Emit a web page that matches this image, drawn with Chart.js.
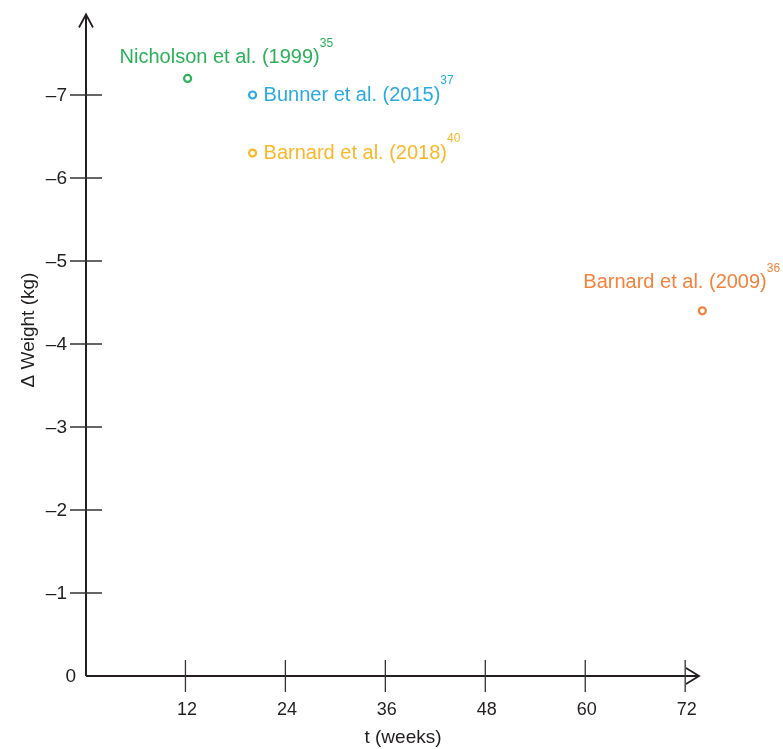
<!DOCTYPE html>
<html>
<head>
<meta charset="utf-8">
<script src="https://cdn.jsdelivr.net/npm/chart.js@4/dist/chart.umd.min.js"></script>
<style>
  html, body { margin: 0; padding: 0; background: #fff; }
  #wrap { width: 783px; height: 749px; }
</style>
</head>
<body>
<div id="wrap"><canvas id="myChart" width="783" height="749"></canvas></div>
<script>
// study data: weeks of follow-up and weight change (kg)
var studies = ['Nicholson et al. (1999)', 'Bunner et al. (2015)', 'Barnard et al. (2018)', 'Barnard et al. (2009)'];
var refs = ['35', '37', '40', '36'];
var weeks = [12.2, 20, 20, 74];
var weightChange = [-7.2, -7.0, -6.3, -4.4];
var xTicks = [12, 24, 36, 48, 60, 72];
var yTicks = [0, -1, -2, -3, -4, -5, -6, -7];

var colors = ['rgb(44,177,90)', 'rgb(41,171,226)', 'rgb(251,183,40)', 'rgb(243,130,60)'];
// label placement relative to each point (px)
var labelOffsets = [[-68, -21], [11, 0], [11, 0], [-119, -28]];

var ink = '#231f20';
var font = '"Liberation Sans", Arial, sans-serif';

var axesPlugin = {
    id: 'axesPlugin',
    afterDatasetsDraw: function (chart) {
        var c = chart.ctx;
        var xs = chart.scales.x, ys = chart.scales.y;
        var x0 = xs.getPixelForValue(0), y0 = ys.getPixelForValue(0);
        var xEnd = xs.getPixelForValue(73.6), yEnd = ys.getPixelForValue(-7.97);
        c.save();
        c.strokeStyle = ink;
        c.lineWidth = 2;
        // axis lines
        c.beginPath();
        c.moveTo(x0, y0); c.lineTo(x0, yEnd);
        c.moveTo(x0, y0); c.lineTo(xEnd, y0);
        c.stroke();
        // arrow heads
        c.lineWidth = 1.8;
        c.beginPath();
        c.moveTo(x0 - 7, yEnd + 13); c.lineTo(x0, yEnd); c.lineTo(x0 + 7, yEnd + 13);
        c.moveTo(xEnd - 13, y0 - 8); c.lineTo(xEnd, y0); c.lineTo(xEnd - 13, y0 + 8);
        c.stroke();
        // ticks
        c.lineWidth = 1.3;
        c.strokeStyle = '#333';
        c.beginPath();
        xTicks.forEach(function (v) {
            var px = xs.getPixelForValue(v) - 0.5;
            c.moveTo(px, y0 - 16); c.lineTo(px, y0 + 16);
        });
        yTicks.forEach(function (v) {
            if (v === 0) return;
            var py = ys.getPixelForValue(v);
            c.moveTo(x0 - 16, py); c.lineTo(x0 + 16, py);
        });
        c.stroke();
        // tick labels
        c.fillStyle = ink;
        c.font = '18px ' + font;
        c.textAlign = 'center';
        c.textBaseline = 'middle';
        xTicks.forEach(function (v) {
            c.fillText(String(v), xs.getPixelForValue(v) + 1, y0 + 34);
        });
        c.font = '19px ' + font;
        c.textAlign = 'right';
        yTicks.forEach(function (v) {
            var txt = v === 0 ? '0' : '\u2013' + Math.abs(v);
            var dx = v === 0 ? -10 : -19;
            c.fillText(txt, x0 + dx, ys.getPixelForValue(v) + 1);
        });
        // axis titles
        c.textAlign = 'center';
        c.font = '19px ' + font;
        c.fillText('t (weeks)', 403, 738);
        c.save();
        c.translate(29, 330);
        c.rotate(-Math.PI / 2);
        c.font = '19px ' + font;
        c.fillText('\u0394 Weight (kg)', 0, 0);
        c.restore();
        // point labels with reference superscripts
        var meta = chart.getDatasetMeta(0);
        meta.data.forEach(function (pt, i) {
            var lx = pt.x + labelOffsets[i][0], ly = pt.y + labelOffsets[i][1];
            c.fillStyle = colors[i];
            c.textAlign = 'left';
            c.textBaseline = 'middle';
            c.font = '20px ' + font;
            c.fillText(studies[i], lx, ly);
            var w = c.measureText(studies[i]).width;
            c.font = '12px ' + font;
            c.fillText(refs[i], lx + w, ly - 14);
        });
        c.restore();
    }
};

var ctx = document.getElementById('myChart').getContext('2d');
var chart = new Chart(ctx, {
    type: 'scatter',
    data: {
        datasets: [{
            label: 'Weight change',
            data: weeks.map(function (w, i) { return { x: w, y: weightChange[i] }; }),
            pointRadius: 3.5,
            pointBorderWidth: 2.2,
            pointBackgroundColor: '#fff',
            pointBorderColor: colors
        }]
    },
    options: {
        responsive: false,
        animation: false,
        layout: { padding: { left: 86, right: 64, top: 12, bottom: 73 } },
        plugins: { legend: { display: false }, tooltip: { enabled: false } },
        scales: {
            x: { type: 'linear', min: 0, max: 76, display: false },
            y: { type: 'linear', min: -8, max: 0, reverse: true, display: false }
        }
    },
    plugins: [axesPlugin]
});
</script>
</body>
</html>
